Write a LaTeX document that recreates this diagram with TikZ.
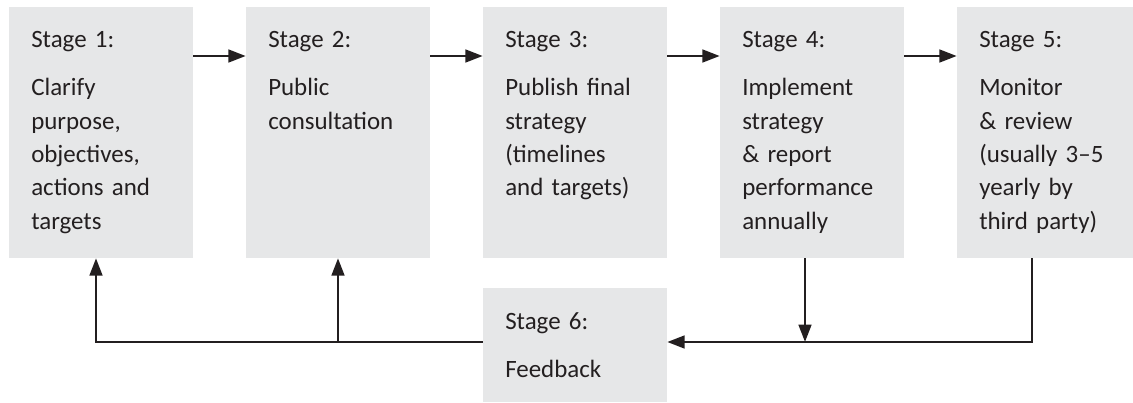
\documentclass[tikz,border=0pt]{standalone}
\usepackage{fontspec}
\setmainfont{Carlito}
\usetikzlibrary{arrows.meta}
\definecolor{boxgrey}{HTML}{E6E7E8}
\definecolor{inkline}{HTML}{231F20}

\begin{document}
\begin{tikzpicture}[x=0.75pt,y=0.75pt,yscale=-1,xscale=1,
  stagebox/.style={fill=boxgrey, draw=none, inner sep=0pt, minimum width=138pt, minimum height=188.25pt},
  stagetext/.style={anchor=base west, inner sep=0pt, text width=150pt, align=left, text=inkline, font=\fontsize{18.7}{25}\selectfont},
  link/.style={draw=inkline, line width=1.9pt},
  flow/.style={link, -{Triangle[length=13pt,width=9.5pt]}}]
\useasboundingbox (0,0) rectangle (1133,403);

%Shapes: stage boxes
\node [stagebox] (s1) at (101,132.5) {};
\node [stagebox] (s2) at (338,132.5) {};
\node [stagebox] (s3) at (575,132.5) {};
\node [stagebox] (s4) at (812,132.5) {};
\node [stagebox, minimum width=132pt] (s5) at (1045,132.5) {};
\node [stagebox, minimum height=85.5pt] (s6) at (575,345) {};

% Text Nodes
\node [stagetext] (t1) at (31,48) {Stage 1:\\[11pt]Clarify\\purpose,\\objectives,\\actions and\\targets};
\node [stagetext] (t2) at (268,48) {Stage 2:\\[11pt]Public\\consultation};
\node [stagetext] (t3) at (505,48) {Stage 3:\\[11pt]Publish final\\strategy\\(timelines\\and targets)};
\node [stagetext] (t4) at (742,48) {Stage 4:\\[11pt]Implement\\strategy\\\& report\\performance\\annually};
\node [stagetext] (t5) at (979,48) {Stage 5:\\[11pt]Monitor\\\& review\\(usually 3--5\\yearly by\\third party)};
\node [stagetext] (t6) at (505,329) {Stage 6:\\[11pt]Feedback};

%Straight Lines: forward row
\coordinate (row) at (0,56);
\foreach \a/\b in {s1/s2,s2/s3,s3/s4,s4/s5}
  \draw [flow] (\a.east |- row) -- (\b.west |- row);

%Straight Lines: feedback loop
\coordinate (c1) at (96,342);
\coordinate (c2) at (338,342);
\coordinate (c4) at (805,342);
\coordinate (c5) at (1032,342);
\draw [flow] (s6.west |- c1) -- (c1) -- (c1 |- s1.south);
\draw [flow] (c2) -- (c2 |- s2.south);
\draw [flow] (c4 |- s4.south) -- (c4);
\draw [flow] (c5 |- s5.south) -- (c5) -- (s6.east |- c5);

\end{tikzpicture}
\end{document}
